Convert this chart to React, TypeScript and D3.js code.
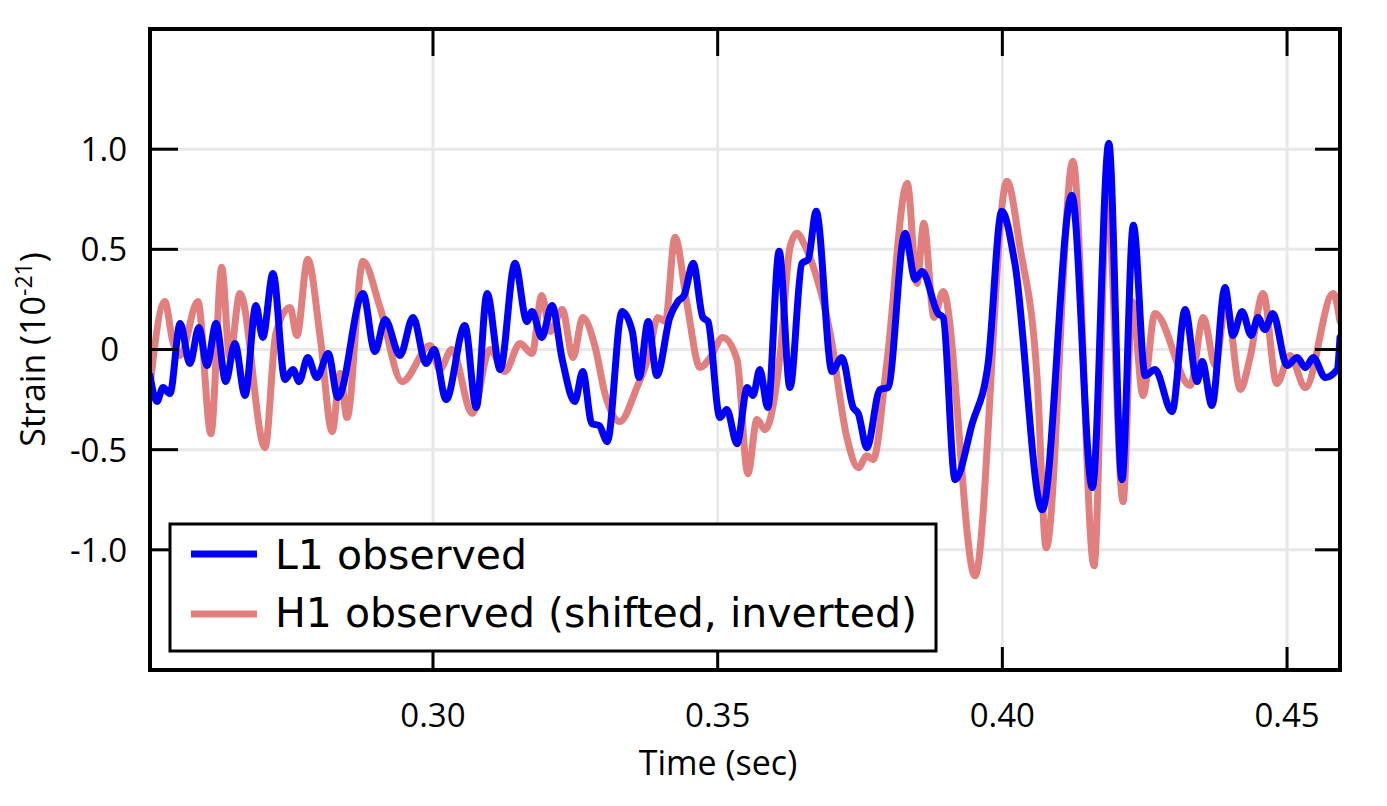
import React from 'react';
import * as d3 from 'd3';

// L1 observed strain (10^-21) at its turning points
const l1Time = [
  0.2503, 0.2515, 0.2526, 0.2538, 0.2556, 0.2573, 0.2589, 0.2603, 0.2619, 0.2636,
  0.2652, 0.267, 0.2689, 0.2701, 0.2719, 0.274, 0.2754, 0.2765, 0.278, 0.2796,
  0.2816, 0.2833, 0.2877, 0.2898, 0.2916, 0.2942, 0.2965, 0.2988, 0.3002, 0.3023,
  0.3056, 0.3076, 0.3095, 0.3118, 0.3144, 0.3165, 0.3174, 0.3191, 0.3209, 0.3227,
  0.3249, 0.3263, 0.3279, 0.3292, 0.3306, 0.3332, 0.335, 0.3362, 0.3378, 0.3393,
  0.3416, 0.343, 0.3441, 0.3457, 0.3474, 0.3483, 0.3504, 0.3516, 0.3534, 0.3552,
  0.3562, 0.3574, 0.3588, 0.3608, 0.3627, 0.3648, 0.3659, 0.3673, 0.3701, 0.3718,
  0.3738, 0.3747, 0.3762, 0.3785, 0.3799, 0.3829, 0.3847, 0.3859, 0.3887, 0.3896,
  0.3917, 0.3947, 0.3975, 0.3999, 0.4022, 0.407, 0.4122, 0.4158, 0.4187, 0.421,
  0.423, 0.4251, 0.4268, 0.4298, 0.4321, 0.4342, 0.4351, 0.4368, 0.4391, 0.4405,
  0.4421, 0.4437, 0.4449, 0.4461, 0.4475, 0.45, 0.4518, 0.4532, 0.4546, 0.4567,
  0.4588, 0.4593,
];
const l1Strain = [
  -0.13, -0.26, -0.19, -0.22, 0.13, -0.07, 0.11, -0.08, 0.13, -0.16,
  0.03, -0.23, 0.22, 0.06, 0.38, -0.15, -0.1, -0.16, -0.04, -0.14,
  -0.02, -0.24, 0.28, -0.01, 0.15, -0.03, 0.16, -0.07, 0.0, -0.25,
  0.12, -0.29, 0.28, -0.1, 0.43, 0.14, 0.19, 0.06, 0.22, -0.05,
  -0.26, -0.11, -0.37, -0.38, -0.46, 0.19, 0.09, -0.14, 0.14, -0.13,
  0.16, 0.24, 0.27, 0.43, 0.16, 0.14, -0.34, -0.3, -0.47, -0.19,
  -0.23, -0.1, -0.29, 0.49, -0.19, 0.43, 0.45, 0.69, -0.11, -0.04,
  -0.29, -0.32, -0.49, -0.2, -0.19, 0.58, 0.35, 0.39, 0.18, 0.16,
  -0.65, -0.37, -0.07, 0.69, 0.43, -0.8, 0.77, -0.69, 1.03, -0.65,
  0.62, -0.13, -0.1, -0.31, 0.2, -0.16, -0.06, -0.28, 0.31, 0.07,
  0.19, 0.07, 0.16, 0.1, 0.18, -0.08, -0.04, -0.09, -0.04, -0.14,
  -0.1, 0.06,
];

// H1 observed (shifted, inverted)
const h1Time = [
  0.2503, 0.2529, 0.2543, 0.2556, 0.2587, 0.261, 0.2629, 0.2643, 0.2661, 0.2705,
  0.2724, 0.2749, 0.2761, 0.278, 0.2802, 0.2823, 0.2837, 0.2849, 0.2877, 0.2907,
  0.2946, 0.2995, 0.3012, 0.3033, 0.3069, 0.31, 0.3126, 0.3153, 0.3174, 0.3191,
  0.3206, 0.3227, 0.3246, 0.3263, 0.3285, 0.3302, 0.3328, 0.3358, 0.3378, 0.3395,
  0.3408, 0.3425, 0.3446, 0.3469, 0.3487, 0.3509, 0.3534, 0.3553, 0.3569, 0.3583,
  0.361, 0.3627, 0.3639, 0.3653, 0.3666, 0.3697, 0.3727, 0.3747, 0.3762, 0.3773,
  0.3797, 0.3833, 0.385, 0.3862, 0.388, 0.3896, 0.3952, 0.4008, 0.4031, 0.4061,
  0.4077, 0.4124, 0.4161, 0.4184, 0.4212, 0.4228, 0.4247, 0.4268, 0.433, 0.4353,
  0.4374, 0.4393, 0.4418, 0.4435, 0.4458, 0.4482, 0.4505, 0.4532, 0.4581, 0.4593,
];
const h1Strain = [
  -0.18, 0.24, 0.04, -0.03, 0.24, -0.42, 0.41, -0.04, 0.28, -0.49,
  0.08, 0.21, 0.07, 0.45, 0.06, -0.41, -0.12, -0.34, 0.44, 0.21,
  -0.16, 0.02, -0.1, 0.0, -0.32, 0.0, -0.11, 0.03, -0.02, 0.27,
  0.09, 0.2, -0.04, 0.16, 0.01, -0.22, -0.36, -0.19, -0.04, 0.16,
  0.14, 0.56, 0.23, -0.09, -0.04, 0.06, -0.05, -0.62, -0.35, -0.4,
  -0.02, 0.51, 0.58, 0.52, 0.43, 0.09, -0.44, -0.59, -0.53, -0.55,
  -0.07, 0.83, 0.33, 0.63, 0.16, 0.29, -1.13, 0.84, 0.51, -0.14,
  -0.99, 0.94, -1.08, 0.79, -0.76, 0.24, -0.23, 0.18, -0.18, 0.16,
  -0.08, 0.24, -0.2, -0.04, 0.28, -0.17, -0.03, -0.19, 0.28, 0.14,
];

const xTicks = [0.3, 0.35, 0.4, 0.45];
const xTickLabels = ['0.30', '0.35', '0.40', '0.45'];
const yTicks = [-1.0, -0.5, 0, 0.5, 1.0];
const yTickLabels = ['-1.0', '-0.5', '0', '0.5', '1.0'];
const legendLabels = ['L1 observed', 'H1 observed (shifted, inverted)'];

const BLUE = '#0000ff';
const RED = '#e17f7f';

const App = () => {
  const left = 150;
  const right = 1340;
  const top = 29;
  const bottom = 670;

  const x = d3.scaleLinear().domain([0.2503, 0.4593]).range([left, right]);
  const y = d3.scaleLinear().domain([-1.6, 1.6]).range([bottom, top]);

  const makeLine = (times: number[]) =>
    d3
      .line<number>()
      .x((_, i) => x(times[i]))
      .y((d) => y(d))
      .curve(d3.curveMonotoneX);

  const tickFont = '"Open Sans", Lato, sans-serif';
  const legendFont = '"DejaVu Sans", sans-serif';

  return (
    <svg
      width={1387}
      height={806}
      style={{ position: 'absolute', left: 0, top: 0, background: '#fff' }}
    >
      <defs>
        <clipPath id="plot-clip">
          <rect x={left} y={top} width={right - left} height={bottom - top} />
        </clipPath>
      </defs>

      {/* grid */}
      {xTicks.map((t) => (
        <line key={'gx' + t} x1={x(t)} x2={x(t)} y1={top} y2={bottom} stroke="#e8e8e8" strokeWidth={3} />
      ))}
      {yTicks.map((t) => (
        <line key={'gy' + t} x1={left} x2={right} y1={y(t)} y2={y(t)} stroke="#e8e8e8" strokeWidth={3} />
      ))}

      {/* series */}
      <g clipPath="url(#plot-clip)" fill="none" strokeLinejoin="round" strokeLinecap="round">
        <path d={makeLine(h1Time)(h1Strain) ?? ''} stroke={RED} strokeWidth={7} />
        <path d={makeLine(l1Time)(l1Strain) ?? ''} stroke={BLUE} strokeWidth={7} />
      </g>

      {/* inward ticks on all sides */}
      {xTicks.map((t) => (
        <g key={'tx' + t} stroke="#000" strokeWidth={3}>
          <line x1={x(t)} x2={x(t)} y1={bottom} y2={bottom - 23} />
          <line x1={x(t)} x2={x(t)} y1={top} y2={top + 27} />
        </g>
      ))}
      {yTicks.map((t) => (
        <g key={'ty' + t} stroke="#000" strokeWidth={3}>
          <line x1={left} x2={left + 28} y1={y(t)} y2={y(t)} />
          <line x1={right} x2={right - 25} y1={y(t)} y2={y(t)} />
        </g>
      ))}

      {/* frame */}
      <rect x={left} y={top} width={right - left} height={bottom - top} fill="none" stroke="#000" strokeWidth={4} />

      {/* tick labels */}
      {xTicks.map((t, i) => (
        <text key={'lx' + t} x={x(t)} y={727} textAnchor="middle" fontFamily={tickFont} fontSize={33} fill="#000">
          {xTickLabels[i]}
        </text>
      ))}
      {yTicks.map((t, i) => (
        <text key={'ly' + t} x={t === 0 ? 119 : 127} y={y(t)} dy="0.36em" textAnchor="end" fontFamily={tickFont} fontSize={33} fill="#000">
          {yTickLabels[i]}
        </text>
      ))}

      {/* axis titles */}
      <text x={718} y={775} textAnchor="middle" fontFamily={tickFont} fontSize={34} fill="#000">
        Time (sec)
      </text>
      <text
        transform={`translate(45, ${y(0)}) rotate(-90)`}
        textAnchor="middle"
        fontFamily={tickFont}
        fontSize={34}
        fill="#000"
      >
        Strain (10<tspan dy={-13} fontSize={23}>-21</tspan>
        <tspan dy={13}>)</tspan>
      </text>

      {/* legend */}
      <rect x={170} y={524} width={766} height={127} fill="#fff" stroke="#000" strokeWidth={3} />
      {legendLabels.map((label, i) => (
        <g key={label}>
          <line x1={191} x2={257} y1={554 + i * 60} y2={554 + i * 60} stroke={i === 0 ? BLUE : RED} strokeWidth={7} />
          <text x={275} y={569 + i * 58} fontFamily={legendFont} fontSize={41} fill="#000">
            {label}
          </text>
        </g>
      ))}
    </svg>
  );
};

export default App;
